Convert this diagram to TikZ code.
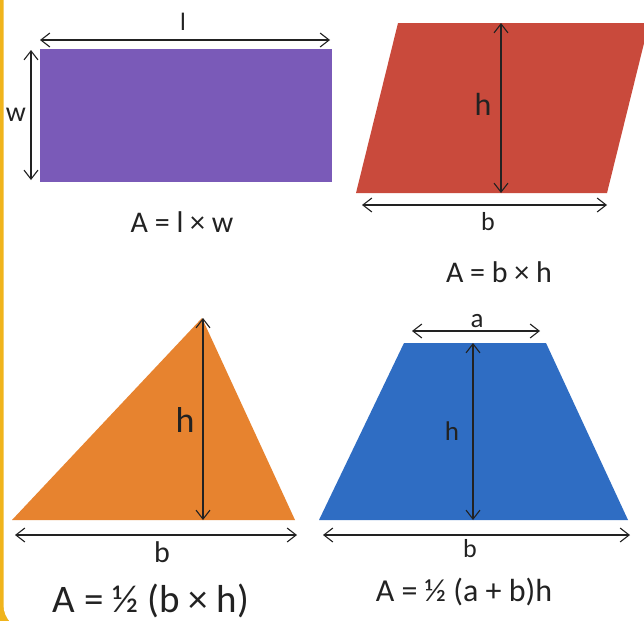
\documentclass[tikz,border=0pt]{standalone}
\usepackage{fontspec}
\setmainfont{Carlito}
\usepackage{xcolor}
\usepackage{tikz}
\usetikzlibrary{arrows.meta,positioning}

\definecolor{rectpurple}{HTML}{7A5AB8}
\definecolor{parared}{HTML}{C94A3C}
\definecolor{triorange}{HTML}{E7832F}
\definecolor{trapblue}{HTML}{2F6DC3}
\definecolor{framegold}{HTML}{F0B41C}
\definecolor{ink}{HTML}{222222}
\newcommand{\fsz}[1]{\fontsize{#1}{#1}\selectfont}

\begin{document}
\begin{tikzpicture}[
        x=1pt, y=-1pt,
        lbl/.style={anchor=base, text=ink, inner sep=0pt},
        dim/.style={{Straight Barb[length=9pt,width=14pt]}-{Straight Barb[length=9pt,width=14pt]}, draw=ink, line width=1.1pt}
    ]
        \useasboundingbox (0,0) rectangle (644,621);
        \clip (0,0) rectangle (644,621);
        \fill[framegold] (0,0) rectangle (644,621);
        \fill[white, rounded corners=25pt] (3.5,-40) rectangle (700,630);

        % rectangle
        \coordinate (r1) at (40,49);
        \coordinate (r2) at (332,182);
        \fill[rectpurple] (r1) rectangle (r2);
        \coordinate (la) at (40,40);
        \coordinate (lb) at (330,40);
        \coordinate (wa) at (31,50);
        \coordinate (wb) at (31,180);
        \draw[dim] (la) -- (lb);
        \draw[dim] (wa) -- (wb);
        \node[lbl, font=\fsz{25}] (lenlbl) at (183,30) {l};
        \node[lbl, font=\fsz{28}] (widlbl) at (16,121) {w};
        \node[lbl, font=\fsz{30}] (rectarea) at (182,232) {A = l × w};

        % parallelogram
        \coordinate (p1) at (356,193);
        \coordinate (p2) at (607,193);
        \coordinate (p3) at (649,23);
        \coordinate (p4) at (398,23);
        \fill[parared] (p1) -- (p2) -- (p3) -- (p4) -- cycle;
        \coordinate (pha) at (501,23);
        \coordinate (phb) at (501,193);
        \coordinate (pba) at (362,205);
        \coordinate (pbb) at (607,205);
        \draw[dim] (pha) -- (phb);
        \draw[dim] (pba) -- (pbb);
        \node[lbl, font=\fsz{32}] (parah) at (483,115) {h};
        \node[lbl, font=\fsz{26}] (parab) at (488,230) {b};
        \node[lbl, font=\fsz{30}] (paraarea) at (499,282) {A = b × h};

        % triangle
        \coordinate (t1) at (12,520);
        \coordinate (t2) at (295,520);
        \coordinate (t3) at (202,318);
        \fill[triorange] (t1) -- (t2) -- (t3) -- cycle;
        \coordinate (tha) at (203,318);
        \coordinate (thb) at (203,520);
        \coordinate (tba) at (15,535);
        \coordinate (tbb) at (297,535);
        \draw[dim] (tha) -- (thb);
        \draw[dim] (tba) -- (tbb);
        \node[lbl, font=\fsz{36}] (trih) at (185,432) {h};
        \node[lbl, font=\fsz{30}] (trib) at (162,562) {b};
        \node[lbl, font=\fsz{39}] (triarea) at (151,612) {A = ½ (b × h)};

        % trapezoid
        \coordinate (q1) at (319,520);
        \coordinate (q2) at (628,520);
        \coordinate (q3) at (546,343);
        \coordinate (q4) at (404,343);
        \fill[trapblue] (q1) -- (q2) -- (q3) -- (q4) -- cycle;
        \coordinate (qaa) at (412,331);
        \coordinate (qab) at (540,331);
        \coordinate (qha) at (473,343);
        \coordinate (qhb) at (473,520);
        \coordinate (qba) at (323,535);
        \coordinate (qbb) at (630,535);
        \draw[dim] (qaa) -- (qab);
        \draw[dim] (qha) -- (qhb);
        \draw[dim] (qba) -- (qbb);
        \node[lbl, font=\fsz{27}] (trapa) at (477,327) {a};
        \node[lbl, font=\fsz{27}] (traph) at (452,440) {h};
        \node[lbl, font=\fsz{26}] (trapb) at (470,557) {b};
        \node[lbl, font=\fsz{32}] (traparea) at (464,601) {A = ½ (a + b)h};
    \end{tikzpicture}
\end{document}
